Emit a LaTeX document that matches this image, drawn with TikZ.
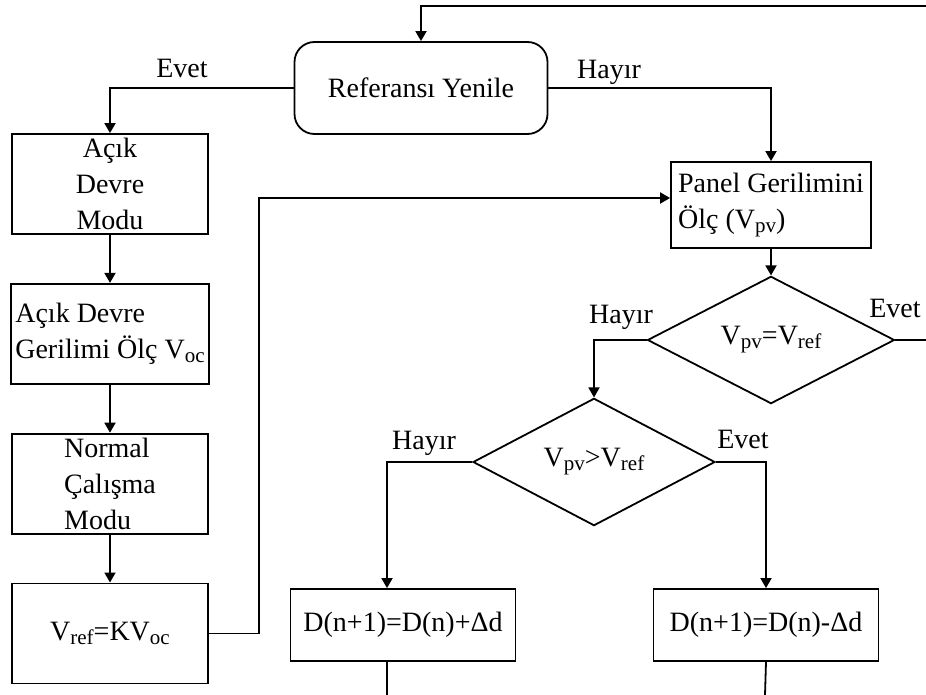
\documentclass[tikz,border=0pt]{standalone}
\usepackage{fontspec}
\setmainfont{Liberation Serif}
\usetikzlibrary{arrows.meta,positioning,shapes.geometric}
\newcommand\lowtxt[1]{\raisebox{-2pt}{\fontsize{10.5}{10.5}\selectfont #1}}
\tikzset{
  box/.style  = {rectangle, draw, line width=0.9pt, inner xsep=2pt, inner ysep=0pt,
                 minimum width=98pt, minimum height=50pt},
  term/.style = {rectangle, rounded corners=10pt, draw, line width=0.9pt,
                 minimum width=126.5pt, minimum height=46pt},
  cond/.style = {diamond, draw, line width=0.9pt, inner sep=0pt,
                 minimum width=123.5pt, minimum height=46pt},
  flow/.style = {-{Triangle[length=5pt,width=5.5pt]}, line width=0.9pt},
  wire/.style = {line width=0.9pt},
  lbl/.style  = {inner sep=0pt},
}

\begin{document}
\begin{tikzpicture}[x=0.5pt, y=-0.5pt, font=\fontsize{14}{18}\selectfont,
                    node distance=24pt]
    \useasboundingbox (0,0) rectangle (926,695);

    \node[term] (ref) at (421,88) {Referansı Yenile};

    % left column
    \node[box, align=center] (acik) at (110,184) {Açık\\Devre\\Modu};
    \node[box, align=left, below=of acik] (voc) {Açık Devre\\Gerilimi Ölç V\lowtxt{oc}};
    \node[box, align=left, below=of voc] (normal) {Normal\\Çalışma\\Modu};
    \node[box, below=of normal] (vref) {V\lowtxt{ref}=KV\lowtxt{oc}};

    % right part
    \node[box, align=left, minimum width=100pt, minimum height=43pt] (panel) at (771,205)
      {Panel Gerilimini\\Ölç (V\lowtxt{pv})};
    \node[cond] (eq) at (771,340) {V\lowtxt{pv}=V\lowtxt{ref}};
    \node[cond, minimum width=121pt] (gt) at (594,462) {V\lowtxt{pv}>V\lowtxt{ref}};
    \node[box, minimum width=112.5pt, minimum height=36pt] (dup) at (403,625) {D(n+1)=D(n)+Δd};
    \node[box, minimum width=112.5pt, minimum height=36pt] (ddown) at (766,625) {D(n+1)=D(n)-Δd};

    \coordinate (loop) at (926,6);
    \coordinate (eqyes) at (926,340);
    \coordinate (upend) at (387,695);
    \coordinate (downend) at (765,695);

    \draw[flow] (loop) -| (ref.north);
    \draw[flow] (ref.west) -| (acik.north);
    \draw[flow] (ref.east) -| (panel.north);
    \draw[flow] (acik.south) -- (voc.north);
    \draw[flow] (voc.south) -- (normal.north);
    \draw[flow] (normal.south) -- (vref.north);
    \draw[flow] (vref.east) -- ++(50,0) |- ([yshift=3.5pt]panel.west);
    \draw[flow] (panel.south) -- (eq.north);
    \draw[flow] (eq.west) -| (gt.north);
    \draw[wire] (eq.east) -- (eqyes);
    \draw[flow] (gt.west) -| (upend |- dup.north);
    \draw[flow] (gt.east) -| (ddown.north);
    \draw[wire] (upend |- dup.south) -- (upend);
    \draw[wire] (ddown.south) -- (downend);

    % branch labels
    \node[lbl] (refyes) at (182,68) {Evet};
    \node[lbl] (refno) at (609,72) {Hayır};
    \node[lbl] (eqno) at (621,317) {Hayır};
    \node[lbl] (eqyeslbl) at (895,308) {Evet};
    \node[lbl] (gtno) at (424,443) {Hayır};
    \node[lbl] (gtyes) at (743,439) {Evet};
\end{tikzpicture}
\end{document}
